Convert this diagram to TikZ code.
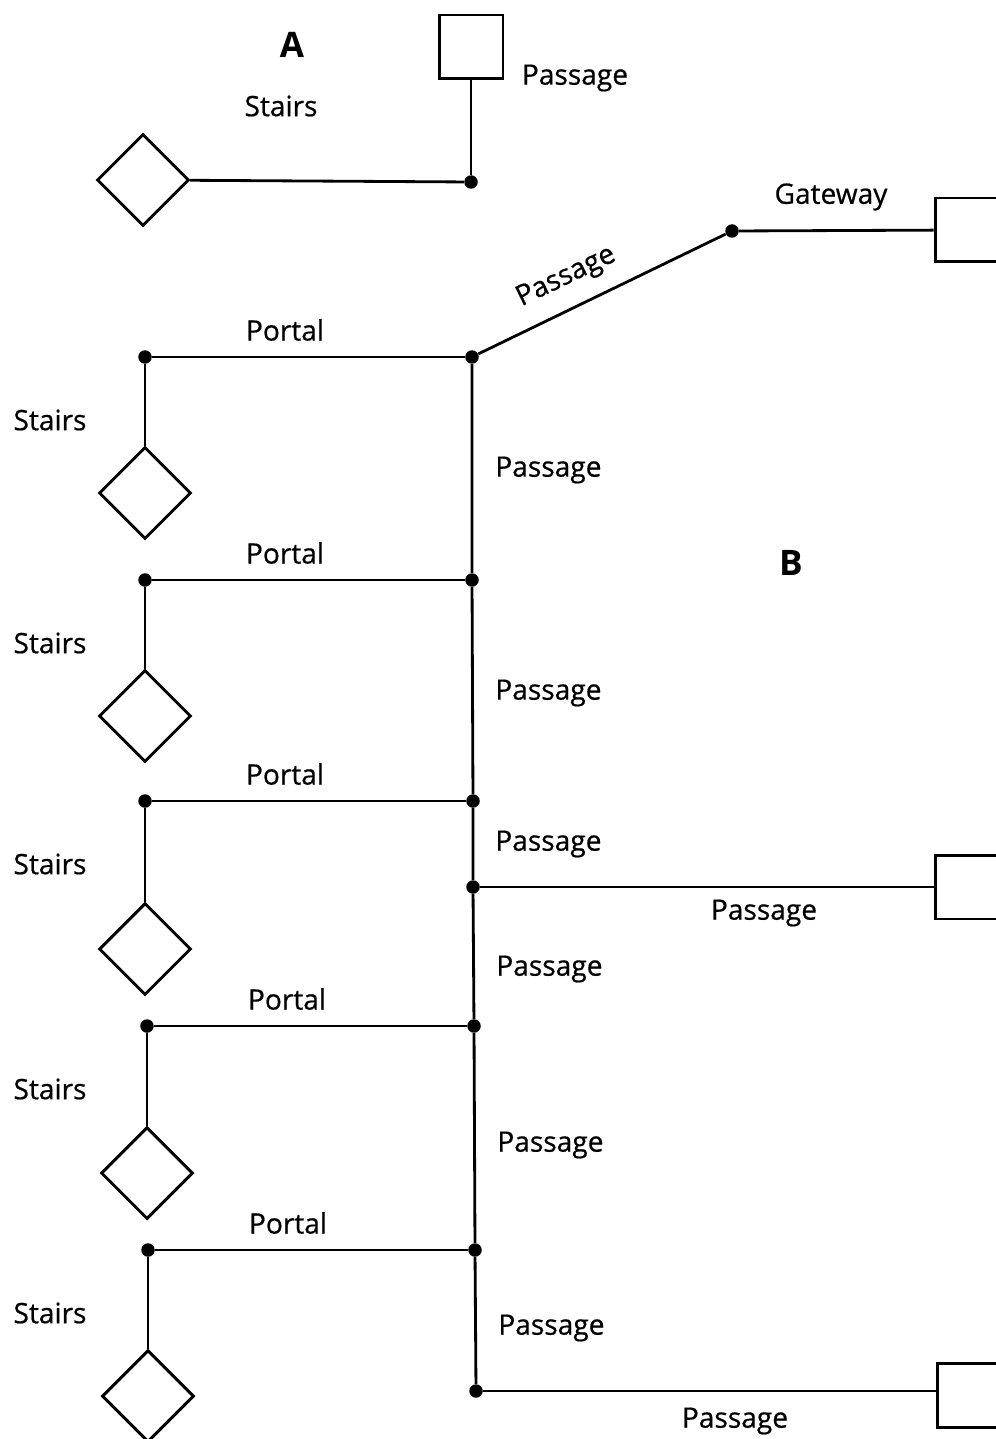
\documentclass[tikz,border=0pt]{standalone}
\usepackage{fontspec}
\setmainfont{Open Sans}
\newfontfamily\lblfont{Open Sans}[FakeBold=0.6]
\usetikzlibrary{shapes.geometric, positioning}
\tikzset{
  room/.style={rectangle, draw, line width=1.7pt, fill=white,
               minimum size=1.28cm, inner sep=0pt},
  stair/.style={diamond, draw, line width=1.7pt, fill=white,
                minimum width=1.84cm, minimum height=1.84cm, inner sep=0pt},
  joint/.style={circle, fill=black, minimum size=0.27cm, inner sep=0pt},
  link/.style={line width=1.6pt},
  lbl/.style={font=\lblfont\fontsize{16}{19}\selectfont, inner sep=0pt},
  big/.style={font=\fontsize{20}{24}\selectfont\bfseries, inner sep=0pt},
}

\begin{document}
\begin{tikzpicture}[x=0.02cm, y=-0.02cm]
  \useasboundingbox (0,0) rectangle (996,1439);

  % A
  \node[big] (la) at (292,45) {A};
  \node[room] (ra) at (471,47) {};
  \node[joint] (ja) at (471,182) {};
  \node[stair] (sa) at (143,180) {};
  \draw[link] (ra) -- (ja);
  \draw[link] (sa) -- (ja);
  \node[lbl] (pa) at (575,78) {Passage};
  \node[lbl] (sta) at (281,106) {Stairs};

  % B: portals and stairs
  \foreach \i/\tx/\px/\y/\dy in {0/472/145/357/493, 1/472/145/580/716,
      2/473/145/801/949, 3/474/147/1026/1173, 4/475/148/1250/1396}{
    \node[joint] (t\i) at (\tx,\y) {};
    \node[joint] (p\i) at (\px,\y) {};
    \node[stair] (s\i) at (\px,\dy) {};
    \draw[link] (p\i) -- (t\i);
    \draw[link] (p\i) -- (s\i);
    \node[lbl] (lp\i) at (\px+140,\y-27) {Portal};
    \node[lbl] (ls\i) at (50,\y+63) {Stairs};
  }
  \node[big] (lb) at (791,563) {B};

  % gateway
  \node[joint] (g) at (732,231) {};
  \node[room] (rg) at (967,230) {};
  \draw[link] (t0) -- (g)
    node[pos=0.41, above=9pt, sloped, lbl] {Passage};
  \draw[link] (g) -- (rg);
  \node[lbl] (lg) at (831,197) {Gateway};

  % trunk
  \node[joint] (tm) at (473,887) {};
  \node[joint] (tb) at (476,1391) {};
  \draw[link] (t0) -- (t1) -- (t2) -- (tm) -- (t3) -- (t4) -- (tb);
  \foreach \x/\y in {495/470, 495/693, 495/844, 496/969, 497/1145, 498/1328}{
    \node[lbl, anchor=west] at (\x,\y) {Passage};
  }

  % side rooms
  \node[room] (rm) at (967,887) {};
  \node[room] (rb) at (969,1395) {};
  \draw[link] (tm) -- (rm);
  \draw[link] (tb) -- (tb -| rb.west);
  \node[lbl] (lm) at (764,913) {Passage};
  \node[lbl] (lbt) at (735,1421) {Passage};
\end{tikzpicture}
\end{document}
